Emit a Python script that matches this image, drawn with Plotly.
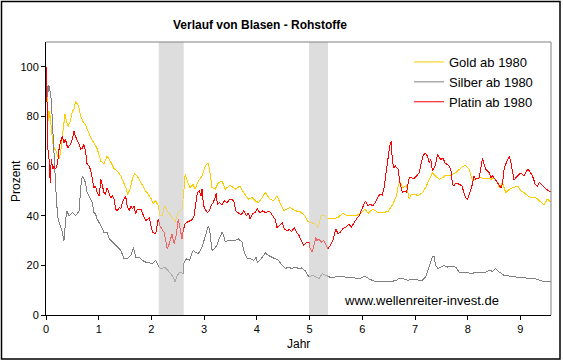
import plotly.graph_objects as go

# ---------------- data ----------------
gold_years = [0.00,0.01,0.03,0.05,0.07,0.10,0.13,0.16,0.19,0.22,0.25,0.28,0.30,0.33,0.36,0.39,0.42,0.46,0.50,0.53,
              0.56,0.60,0.63,0.66,0.70,0.74,0.78,0.82,0.86,0.92,0.97,1.00,1.04,1.10,1.16,1.22,1.29,1.35,1.42,1.48,
              1.52,1.55,1.60,1.64,1.68,1.73,1.78,1.84,1.89,1.93,1.99,2.03,2.08,2.13,2.16,2.20,2.25,2.30,2.37,2.41,
              2.45,2.51,2.58,2.61,2.64,2.68,2.73,2.79,2.83,2.89,2.96,3.02,3.08,3.11,3.15,3.21,3.27,3.34,3.40,3.49,
              3.59,3.68,3.75,3.84,3.91,3.97,4.03,4.10,4.16,4.25,4.32,4.38,4.44,4.51,4.57,4.63,4.73,4.82,4.91,4.97,
              5.03,5.10,5.16,5.22,5.29,5.35,5.44,5.54,5.63,5.70,5.79,5.89,5.98,6.05,6.11,6.20,6.30,6.39,6.49,6.58,
              6.65,6.68,6.72,6.77,6.84,6.89,6.93,7.00,7.06,7.14,7.20,7.27,7.33,7.39,7.46,7.52,7.58,7.65,7.71,7.77,
              7.84,7.90,7.96,8.03,8.09,8.15,8.22,8.28,8.38,8.44,8.50,8.57,8.60,8.66,8.72,8.79,8.88,8.95,9.01,9.07,
              9.14,9.20,9.29,9.36,9.45,9.51,9.59]
gold_values = [100,90,85,78,82,76,69,67,66,64,63,66,70,75,81,78,76,78,82,83,
               86,85,83,80,78,77,75,73,71,69,67,65,62,61,64,62,59,58,56,53,
               51,48.5,51,55,57,56,54,52,50,49,47,45,46,44,40,40,44,42,40,39,
               37.6,41.3,42.7,48.7,56.7,54,51.3,52.7,50.7,54,56,60,61.3,57.3,51.3,50.7,53.3,54,50.7,52.3,
               50.7,52,49.3,46.7,47.3,46,45.3,47.3,49.3,46.7,46,48,45.3,42,42.7,43.3,42,41.6,40,37.6,
               37.3,36.7,35.3,40,40,38.7,38.7,39.3,41,40.2,40.2,40,41.3,42.7,41,42.7,41.3,41.3,41.7,44.7,
               48,52,53.6,51.3,52,46.7,48.7,48.7,48,49.3,51.3,54.7,57.3,56,54.7,55.3,56.3,56,56.7,57.3,
               58.7,59.7,60.3,58.7,54,55,55.3,55.3,55,54.7,55.3,53.3,51.3,53.3,49.3,50.7,51.3,52,50,49.3,
               48,47.3,47.3,46,44.4,46.7,45.3]

silver_years = [0.00,0.01,0.03,0.05,0.08,0.10,0.12,0.14,0.16,0.18,0.20,0.23,0.27,0.31,0.34,0.37,0.39,0.44,0.50,0.56,
                0.63,0.66,0.69,0.72,0.75,0.78,0.85,0.88,0.91,0.94,0.97,1.01,1.04,1.07,1.10,1.16,1.20,1.23,1.29,1.35,
                1.42,1.48,1.54,1.61,1.66,1.70,1.77,1.83,1.89,1.96,2.02,2.08,2.15,2.21,2.25,2.34,2.41,2.45,2.49,2.54,
                2.60,2.62,2.67,2.72,2.79,2.83,2.89,2.96,3.00,3.04,3.08,3.11,3.15,3.19,3.24,3.27,3.34,3.37,3.40,3.46,
                3.53,3.59,3.65,3.72,3.76,3.81,3.87,3.94,3.99,4.01,4.08,4.16,4.22,4.29,4.35,4.41,4.48,4.54,4.60,4.66,
                4.73,4.80,4.84,4.91,4.99,5.06,5.13,5.18,5.24,5.31,5.38,5.48,5.57,5.67,5.76,5.86,5.95,6.05,6.14,6.27,
                6.39,6.52,6.65,6.71,6.77,6.87,6.96,7.09,7.14,7.20,7.25,7.30,7.33,7.36,7.39,7.44,7.49,7.55,7.62,7.71,
                7.77,7.84,7.90,7.99,8.09,8.15,8.25,8.34,8.41,8.47,8.53,8.60,8.69,8.79,8.91,9.04,9.14,9.23,9.32,9.42,
                9.51,9.59]
silver_values = [100,93,88,92.7,90,86.7,78,69.3,62.7,53.3,45.3,38.7,36,33.3,30,38.7,42,40,41.3,40,
                 42,52,56,54.7,53.3,49.3,46.7,45.3,41.3,40.7,38.7,37.3,36,34.7,33.3,33.3,30.7,30,28.7,27.3,
                 26,22.7,22.7,24,27.3,23.3,23.3,22,21.3,21,20.7,22,19,18.7,19.3,17.3,15.3,13.3,16,17.3,
                 16.7,21.3,22.7,22,26,25.3,24.7,27.3,30,33.3,36,33.3,26,26.7,28,30,33.3,32,29.6,30,
                 30,30,30.7,29.3,25.3,23,22.7,22,23.3,21,22.7,25,24,23.3,22.7,22,20,18.7,19.3,18.7,
                 19.3,18.7,19,18,15.3,16,15.3,14.7,16.7,16,15.3,15.3,15.7,15.3,15.3,14.9,14.7,15.7,14.4,13.3,
                 13.6,13.3,14,14.9,14.7,14,14.4,14,14,15.3,18.7,21.3,23.3,23.7,20,18.7,19.3,20,19.3,19.7,
                 19.3,17.3,17.3,17.1,16.7,17.3,17.3,17.3,18,17.6,18.7,17.3,16,15.7,15.3,15.3,14.7,14.9,14.4,13.6,
                 13.6,13.3]

platin_years = [0.00,0.01,0.03,0.04,0.06,0.08,0.10,0.13,0.15,0.18,0.22,0.25,0.28,0.31,0.34,0.37,0.41,0.46,0.50,0.53,
                0.56,0.59,0.63,0.66,0.69,0.72,0.75,0.78,0.82,0.85,0.88,0.91,0.94,0.97,1.01,1.04,1.07,1.10,1.13,1.16,
                1.20,1.23,1.26,1.29,1.32,1.35,1.39,1.42,1.45,1.48,1.51,1.54,1.58,1.61,1.64,1.67,1.70,1.73,1.80,1.85,
                1.89,1.96,1.99,2.02,2.08,2.13,2.16,2.21,2.24,2.27,2.30,2.34,2.36,2.39,2.43,2.47,2.51,2.54,2.58,2.61,
                2.64,2.67,2.72,2.77,2.81,2.85,2.87,2.91,2.94,2.96,2.99,3.02,3.06,3.10,3.13,3.17,3.21,3.23,3.25,3.29,
                3.34,3.38,3.43,3.48,3.53,3.57,3.60,3.65,3.70,3.75,3.80,3.84,3.87,3.92,3.97,4.01,4.06,4.11,4.16,4.20,
                4.25,4.30,4.35,4.38,4.43,4.48,4.52,4.57,4.62,4.66,4.71,4.76,4.80,4.84,4.89,4.94,4.99,5.01,5.05,5.08,
                5.12,5.14,5.18,5.22,5.27,5.30,5.35,5.39,5.44,5.50,5.54,5.58,5.63,5.68,5.75,5.79,5.84,5.89,5.94,5.98,
                6.03,6.06,6.11,6.15,6.20,6.25,6.30,6.34,6.38,6.42,6.46,6.49,6.52,6.55,6.57,6.60,6.63,6.68,6.72,6.76,
                6.81,6.84,6.89,6.93,6.98,7.03,7.08,7.12,7.15,7.19,7.24,7.27,7.30,7.33,7.38,7.43,7.46,7.49,7.53,7.57,
                7.62,7.65,7.68,7.71,7.74,7.77,7.84,7.89,7.93,7.96,8.00,8.03,8.06,8.09,8.12,8.15,8.22,8.25,8.28,8.31,
                8.34,8.38,8.41,8.44,8.47,8.50,8.53,8.58,8.63,8.66,8.69,8.72,8.76,8.79,8.82,8.85,8.88,8.91,8.95,8.98,
                9.01,9.04,9.07,9.10,9.14,9.17,9.20,9.23,9.28,9.32,9.36,9.39,9.43,9.48,9.53,9.59]
platin_values = [100,94.7,76,64,62.7,53.3,62.7,58.7,60,58.7,61.3,67.3,70,72,69.3,70.7,67.3,68.7,70.7,74,
                 72,70.7,68.7,66.7,67.3,68.7,66,60.7,60,58,54.7,51.3,52,49.3,48,54.7,52,49.3,48.7,51.3,
                 48.7,47.3,48,46.7,42.7,42,43.3,42.7,45.3,46.7,48,44,42,44,42.7,44,40.7,42.7,42.7,40,
                 38,39,36,33.3,32.7,38.7,36,34,33.3,30,26.7,28.7,30,32.7,28.7,32,38.7,34.7,30.7,34.7,
                 36.7,37.3,38,38.4,40,46.7,49.3,50,48,50.7,44,42.7,41.3,42,44,45.3,47.3,49.3,44.7,45.3,
                 44.3,46,45.3,46.4,46.7,45.3,42,41.1,40.3,42,40,41.1,38.7,40.7,41.3,42.7,41.1,42,41.3,41.6,
                 41.6,40,38.4,35.3,36,37.1,34.7,34,34.4,33.6,35.3,33.1,32,30,28,29.3,29.3,26.7,25.3,28,
                 31.3,30,30.7,29.3,30,28.7,26.7,28,30,34.7,32.7,33.3,34.7,35.3,36.7,35.3,37.3,38.7,40,42,
                 44,46,44,44.7,44,45.3,47.7,48.7,48.3,52,58.7,64,68,70,62,59.3,60,58.7,52.7,49.3,
                 50,49.3,55.3,55.3,54.9,56,57.3,61.3,64,65.3,64,61.3,62.7,58,60,64.7,63.3,62.7,63.3,61.3,
                 60.7,60,58.7,52.7,52,53.1,52.7,52,49.3,47.3,46.7,48.7,50.7,52.7,56,54.7,55.3,58.7,63.3,60.7,
                 58.7,58,57.3,55.3,56,55.3,54.4,53.3,51.3,52.7,58.7,60.7,62.7,64,61.3,56.7,54.3,55.3,56,56.7,
                 57.3,56.7,56,57.3,58.7,58,56.7,56,52.7,52,53.3,52.7,52,51.3,50,49.6]

series_names = ["Gold ab 1980", "Silber ab 1980", "Platin ab 1980"]
shade_periods = [(2.14, 2.61), (4.99, 5.35)]
x_ticks = [0, 1, 2, 3, 4, 5, 6, 7, 8, 9]
y_ticks = [0, 20, 40, 60, 80, 100]

# ---------------- styling ----------------
FONT = "Arial, Liberation Sans, sans-serif"
colors = ["#FFCC00", "#808080", "#FF0000"]
W, H = 563, 361
ML, MR, MT, MB = 46, 12, 42, 46
PW, PH = W - ML - MR, H - MT - MB

def px_x(px):
    return (px - ML) / PW

def px_y(py):
    return (H - MB - py) / PH

fig = go.Figure()
for name, xs, ys, c in zip(series_names,
                           [gold_years, silver_years, platin_years],
                           [gold_values, silver_values, platin_values],
                           colors):
    fig.add_trace(go.Scatter(x=xs, y=ys, mode="lines", name=name,
                             line=dict(color=c, width=1)))

shapes = []
for x0, x1 in shade_periods:
    shapes.append(dict(type="rect", xref="x", yref="paper", x0=x0, x1=x1, y0=0, y1=1,
                       fillcolor="#DDDDDD", line=dict(width=0), layer="below"))
    shapes.append(dict(type="rect", xref="x", yref="paper", x0=x0, x1=x1, y0=0, y1=1,
                       fillcolor="rgba(221,221,221,0.45)", line=dict(width=0), layer="above"))
# grey top / right frame of plot area
shapes.append(dict(type="line", xref="paper", yref="paper", x0=0, x1=1, y0=1, y1=1,
                   line=dict(color="#808080", width=1)))
shapes.append(dict(type="line", xref="paper", yref="paper", x0=1, x1=1, y0=0, y1=1,
                   line=dict(color="#808080", width=1)))
# outer black frame of the chart
shapes.append(dict(type="rect", xref="paper", yref="paper",
                   x0=px_x(1.5), x1=px_x(560), y0=px_y(359), y1=px_y(1.5),
                   line=dict(color="black", width=1.5), fillcolor="rgba(0,0,0,0)"))

annotations = [
    dict(text="www.wellenreiter-invest.de", xref="paper", yref="paper",
         x=px_x(342), y=px_y(300), xanchor="left", yanchor="middle",
         showarrow=False, font=dict(family=FONT, size=13, color="black")),
    dict(text="Prozent", xref="paper", yref="paper", x=px_x(16), y=px_y(181),
         xanchor="center", yanchor="middle", textangle=-90,
         showarrow=False, font=dict(family=FONT, size=12, color="black")),
    dict(text="Jahr", xref="paper", yref="paper", x=px_x(298), y=px_y(344),
         xanchor="center", yanchor="middle",
         showarrow=False, font=dict(family=FONT, size=12, color="black")),
]

fig.update_layout(
    width=W, height=H,
    margin=dict(l=ML, r=MR, t=MT, b=MB, pad=0, autoexpand=False),
    paper_bgcolor="white", plot_bgcolor="white",
    font=dict(family=FONT, size=11, color="black"),
    title=dict(text="<b>Verlauf von Blasen - Rohstoffe</b>", xref="paper", x=px_x(260),
               xanchor="center", yref="container", y=1 - 25 / H, yanchor="middle",
               font=dict(family=FONT, size=12, color="black")),
    xaxis=dict(range=[0, 9.58], tickvals=x_ticks, showgrid=False, zeroline=False,
               showline=True, linecolor="black", linewidth=1, ticks="outside", ticklen=4,
               tickcolor="black", tickfont=dict(size=11), automargin=False),
    yaxis=dict(range=[0, 110], tickvals=y_ticks, showgrid=False, zeroline=False,
               showline=True, linecolor="black", linewidth=1, ticks="outside", ticklen=4,
               tickcolor="black", tickfont=dict(size=11), automargin=False),
    legend=dict(x=px_x(409), y=px_y(47), xanchor="left", yanchor="top",
                bgcolor="rgba(0,0,0,0)", borderwidth=0, font=dict(size=13),
                itemwidth=30, tracegroupgap=0),
    showlegend=True,
    shapes=shapes,
    annotations=annotations,
)

post = ("document.body.style.margin='0';document.body.style.overflow='hidden';"
        "var s=document.createElement('style');"
        "s.textContent='.scatterlayer path.js-line{shape-rendering:crispEdges;}';"
        "document.head.appendChild(s);")
fig.write_html("out.html", post_script=post, config={"displayModeBar": False})
